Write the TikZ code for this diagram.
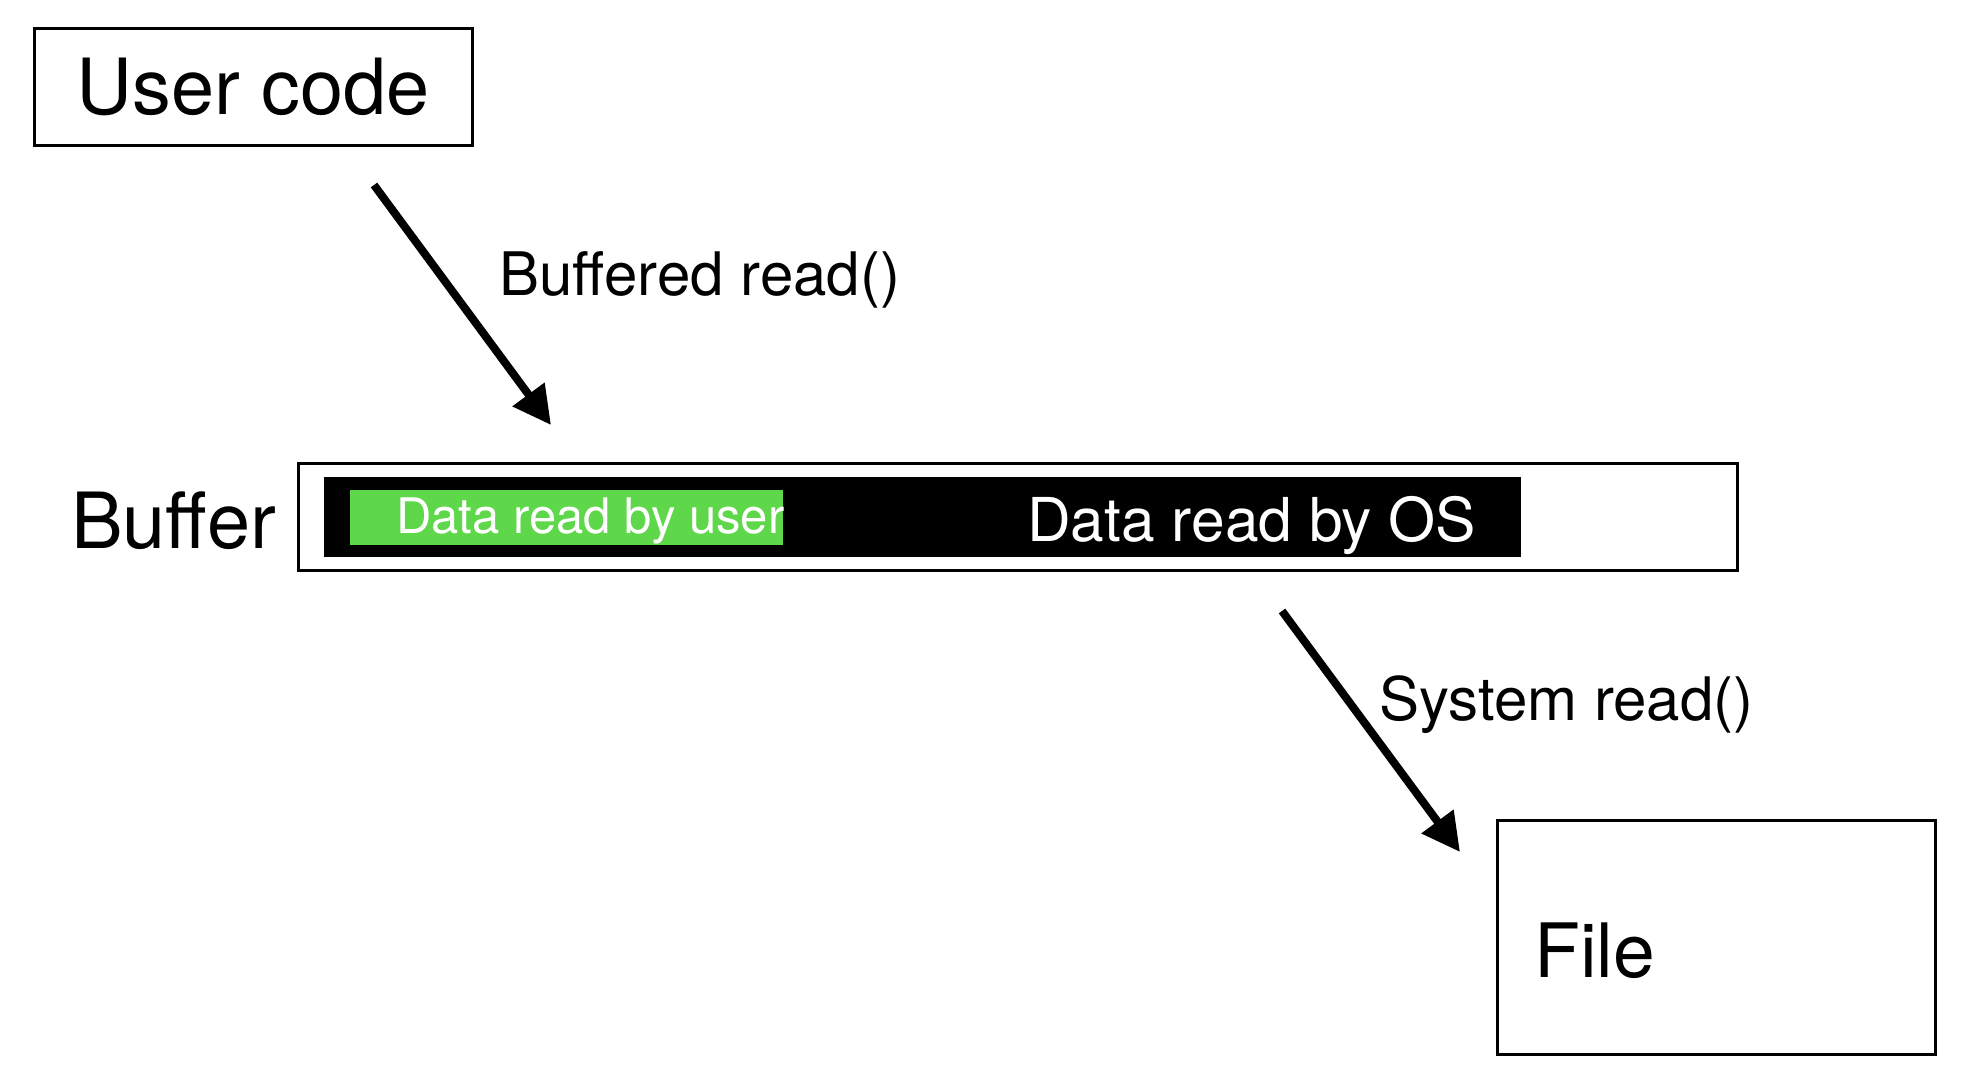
\documentclass[tikz,border=0pt]{standalone}
\usepackage{fontspec}
\setmainfont{TeX Gyre Heros}
\usetikzlibrary{arrows.meta}
\definecolor{usergreen}{RGB}{94,216,74}
\begin{document}
\begin{tikzpicture}[x=1pt,y=-1pt,
  box/.style={draw=black,line width=3pt,inner sep=0pt},
  bigtext/.style={font=\fontsize{77.5}{90}\selectfont, inner sep=0pt},
  midtext/.style={font=\fontsize{60}{72}\selectfont, inner sep=0pt, anchor=base west},
  arr/.style={line width=8pt, -{Triangle[length=38pt,width=38pt]}}]
\useasboundingbox (0,0) rectangle (1974,1084);
% User code box
\node[box, bigtext, minimum width=438pt, minimum height=117pt] (user) at (253,86.5) {User code};
% Buffer
\node[bigtext, anchor=base west] (buflabel) at (71,548) {Buffer};
\node[box, minimum width=1439pt, minimum height=107pt] (buffer) at (1017.5,516.5) {};
\node[fill=black, inner sep=0pt, minimum width=1197pt, minimum height=80pt] (osbar) at (922.5,517) {};
\node[fill=usergreen, inner sep=0pt, minimum width=433pt, minimum height=55pt] (userbar) at (566.5,517.5) {};
\node[font=\fontsize{49}{58}\selectfont, text=white, inner sep=0pt, anchor=base west] (usertxt) at (396,533) {Data read by user};
\node[font=\fontsize{60.5}{72}\selectfont, text=white, inner sep=0pt, anchor=base west] (ostxt) at (1027,541) {Data read by OS};
% File box
\node[box, minimum width=438pt, minimum height=234pt] (file) at (1716,937) {};
\node[font=\fontsize{75}{90}\selectfont, inner sep=0pt, anchor=base west] (filetxt) at (1534,977) {File};
% Arrows
\coordinate (a1s) at (374,185);
\coordinate (a1e) at (551,425);
\coordinate (a2s) at (1282,611);
\coordinate (a2e) at (1460,852);
\draw[arr] (a1s) -- (a1e);
\draw[arr] (a2s) -- (a2e);
\node[midtext] (lbl1) at (499,295) {Buffered read()};
\node[midtext] (lbl2) at (1379,720) {System read()};
\end{tikzpicture}
\end{document}
